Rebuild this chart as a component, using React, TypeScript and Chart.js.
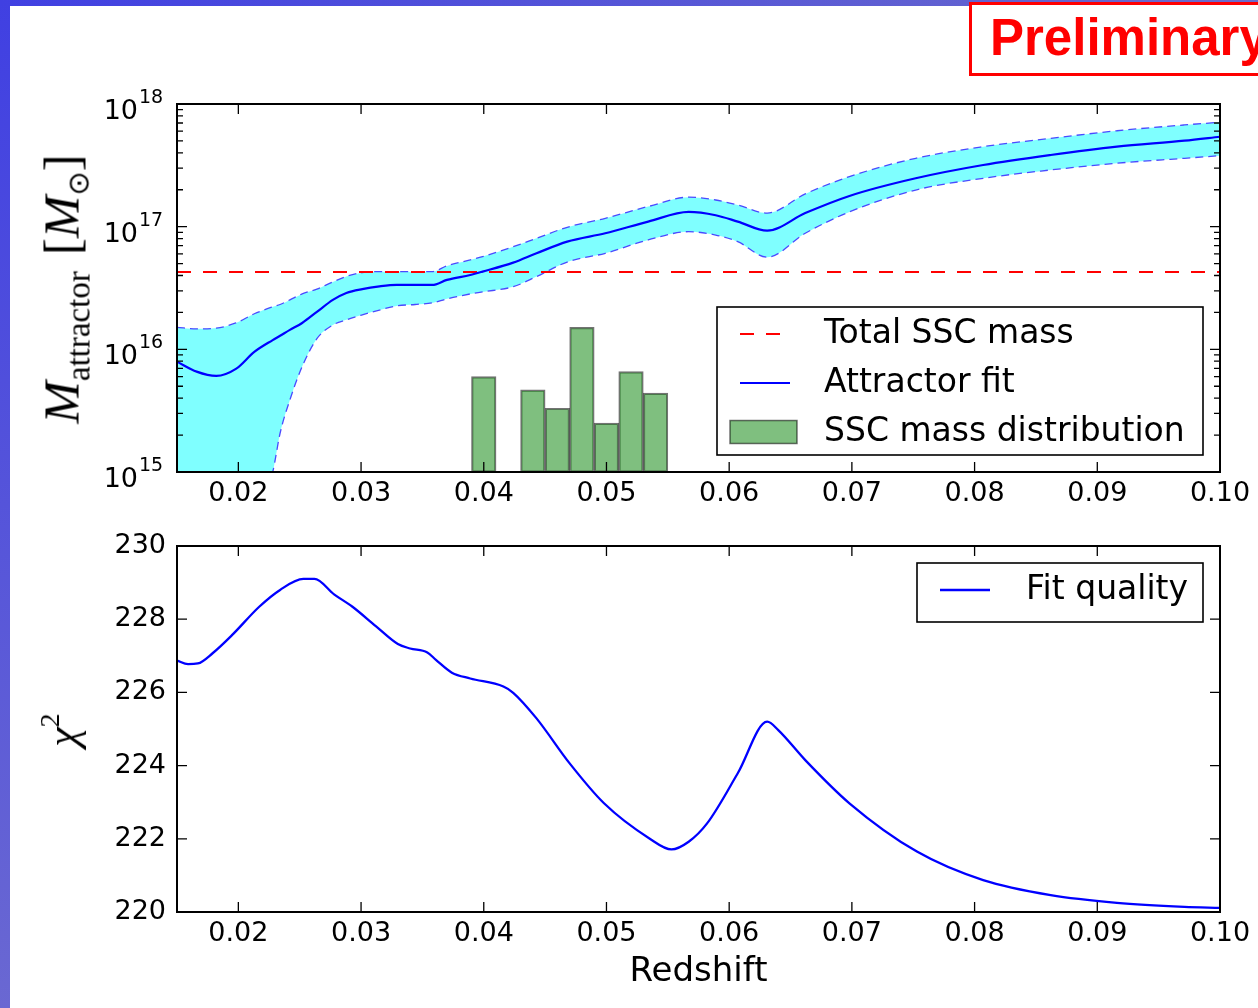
import React, { useEffect, useRef } from 'react';
import { Chart, registerables } from 'chart.js';

Chart.register(...registerables);
Chart.defaults.font.family = '"DejaVu Sans", sans-serif';
Chart.defaults.color = '#000';

// ---------- Data ----------
const redshiftGrid = [
  0.015, 0.0166, 0.0182, 0.0198, 0.0213, 0.0228, 0.0234, 0.0242, 0.0252, 0.0264,
  0.0277, 0.0288, 0.0301, 0.0315, 0.0329, 0.0344, 0.0358, 0.037, 0.0389, 0.0399,
  0.0424, 0.0443, 0.0468, 0.0499, 0.0534, 0.0567, 0.0589, 0.0607, 0.0631, 0.0662,
  0.0698, 0.0752, 0.0807, 0.0862, 0.0916, 0.0971, 0.1,
];
const massFit = [
  7.94e15, 6.58e15, 6.07e15, 6.92e15, 9.53e15, 1.19e16, 1.29e16, 1.44e16, 1.64e16, 2.02e16,
  2.53e16, 2.88e16, 3.10e16, 3.26e16, 3.35e16, 3.35e16, 3.35e16, 3.68e16, 4.04e16, 4.30e16,
  5.09e16, 6.07e16, 7.55e16, 8.83e16, 1.10e17, 1.32e17, 1.24e17, 1.10e17, 9.27e16, 1.29e17,
  1.78e17, 2.48e17, 3.18e17, 3.84e17, 4.49e17, 5.02e17, 5.41e17,
];
const massUpper = [
  1.51e16, 1.47e16, 1.49e16, 1.64e16, 1.95e16, 2.22e16, 2.32e16, 2.53e16, 2.83e16, 3.10e16,
  3.54e16, 3.93e16, 4.22e16, 4.30e16, 4.30e16, 4.30e16, 4.30e16, 4.79e16, 5.36e16, 5.70e16,
  6.87e16, 8.04e16, 9.89e16, 1.17e17, 1.46e17, 1.74e17, 1.65e17, 1.50e17, 1.29e17, 1.85e17,
  2.56e17, 3.61e17, 4.49e17, 5.25e17, 6.05e17, 6.75e17, 7.10e17,
];
const massLower = [
  1.0e13, 2.5e13, 6.3e13, 1.6e14, 4.0e14, 1.0e15, 2.07e15, 3.87e15, 7.23e15, 1.22e16,
  1.58e16, 1.74e16, 1.91e16, 2.09e16, 2.26e16, 2.32e16, 2.39e16, 2.58e16, 2.83e16, 2.94e16,
  3.24e16, 3.92e16, 5.15e16, 6.07e16, 7.80e16, 9.10e16, 8.55e16, 7.55e16, 5.64e16, 8.83e16,
  1.32e17, 1.99e17, 2.48e17, 2.90e17, 3.29e17, 3.61e17, 3.79e17,
];
const totalSscMass = 4.27e16;
const histBinCenters = [0.040, 0.044, 0.046, 0.048, 0.050, 0.052, 0.054];
const histMass = [6.0e15, 4.67e15, 3.31e15, 1.51e16, 2.5e15, 6.58e15, 4.39e15];

const chiRedshift = [
  0.015, 0.0159, 0.0167, 0.0179, 0.0195, 0.0217, 0.0234, 0.0253, 0.0262, 0.0278,
  0.0293, 0.0312, 0.033, 0.034, 0.0354, 0.0361, 0.0374, 0.0389, 0.0416, 0.0424,
  0.0443, 0.047, 0.0498, 0.0535, 0.0553, 0.0567, 0.0582, 0.0607, 0.0631, 0.064,
  0.0662, 0.0698, 0.0753, 0.0807, 0.0862, 0.0916, 0.0971, 0.1,
];
const chiValues = [
  226.87, 226.77, 226.79, 227.07, 227.57, 228.34, 228.8, 229.1, 229.1, 228.68,
  228.34, 227.81, 227.32, 227.2, 227.09, 226.89, 226.54, 226.38, 226.16, 225.99,
  225.29, 224.06, 222.97, 222.01, 221.71, 221.92, 222.42, 223.79, 225.2, 224.97,
  224.15, 222.97, 221.65, 220.87, 220.46, 220.25, 220.14, 220.11,
];

const xTickValues = [0.02, 0.03, 0.04, 0.05, 0.06, 0.07, 0.08, 0.09, 0.10];
const massTickValues = [1e15, 1e16, 1e17, 1e18];
const chiTickValues = [220, 222, 224, 226, 228, 230];

const labelFit = 'Attractor fit';
const labelTotal = 'Total SSC mass';
const labelHist = 'SSC mass distribution';
const labelChi = 'Fit quality';

// ---------- Plugins ----------
const framePlugin = {
  id: 'frameTicks',
  afterDatasetsDraw(chart: any, _a: any, opts: any) {
    const { ctx, chartArea } = chart;
    const { left, right, top, bottom } = chartArea;
    const xs = chart.scales.x;
    const ys = chart.scales.y;
    ctx.save();
    ctx.strokeStyle = '#000';
    ctx.lineWidth = 1.3;
    ctx.beginPath();
    xs.ticks.forEach((t: any) => {
      const p = xs.getPixelForValue(t.value);
      ctx.moveTo(p, bottom); ctx.lineTo(p, bottom - 10);
      ctx.moveTo(p, top); ctx.lineTo(p, top + 10);
    });
    ys.ticks.forEach((t: any) => {
      const p = ys.getPixelForValue(t.value);
      ctx.moveTo(left, p); ctx.lineTo(left + 10, p);
      ctx.moveTo(right, p); ctx.lineTo(right - 10, p);
    });
    if (opts && opts.logMinor) {
      for (let e = 15; e < 18; e++) {
        for (let k = 2; k <= 9; k++) {
          const p = ys.getPixelForValue(k * Math.pow(10, e));
          ctx.moveTo(left, p); ctx.lineTo(left + 6, p);
          ctx.moveTo(right, p); ctx.lineTo(right - 6, p);
        }
      }
    }
    ctx.stroke();
    ctx.lineWidth = 2;
    ctx.strokeRect(left, top, right - left, bottom - top);
    ctx.restore();
  },
};

const logLabelPlugin = {
  id: 'logLabels',
  afterDraw(chart: any, _a: any, opts: any) {
    if (!opts || !opts.enabled) return;
    const { ctx } = chart;
    const ys = chart.scales.y;
    ctx.save();
    ctx.fillStyle = '#000';
    ys.ticks.forEach((t: any) => {
      const p = ys.getPixelForValue(t.value);
      const exp = String(Math.round(Math.log10(t.value)));
      ctx.font = '27px "DejaVu Sans"';
      ctx.textAlign = 'right';
      ctx.textBaseline = 'alphabetic';
      ctx.fillText('10', 138, p + 15);
      ctx.font = '19px "DejaVu Sans"';
      ctx.textAlign = 'left';
      ctx.fillText(exp, 139, p - 1);
    });
    ctx.restore();
  },
};

const legendPlugin = {
  id: 'boxLegend',
  afterDraw(chart: any, _a: any, opts: any) {
    if (!opts || !opts.items) return;
    const { ctx } = chart;
    const [bx, by, bw, bh] = opts.box;
    ctx.save();
    ctx.fillStyle = '#fff';
    ctx.fillRect(bx, by, bw, bh);
    ctx.strokeStyle = '#000';
    ctx.lineWidth = 1.6;
    ctx.strokeRect(bx, by, bw, bh);
    opts.items.forEach((it: any) => {
      const ds = chart.data.datasets[it.ds];
      if (ds.type === 'bar') {
        ctx.fillStyle = ds.backgroundColor;
        ctx.fillRect(opts.patchX, it.y - 11.5, opts.patchW, 23);
        ctx.strokeStyle = ds.borderColor;
        ctx.lineWidth = ds.borderWidth;
        ctx.strokeRect(opts.patchX, it.y - 11.5, opts.patchW, 23);
      } else {
        ctx.strokeStyle = ds.borderColor;
        ctx.lineWidth = ds.borderWidth;
        ctx.setLineDash(ds.borderDash || []);
        ctx.beginPath();
        ctx.moveTo(opts.lineX0, it.y);
        ctx.lineTo(opts.lineX1, it.y);
        ctx.stroke();
        ctx.setLineDash([]);
      }
      ctx.fillStyle = '#000';
      ctx.font = '33px "DejaVu Sans"';
      ctx.textAlign = 'left';
      ctx.textBaseline = 'middle';
      ctx.fillText(ds.label, opts.textX, it.y);
    });
    ctx.restore();
  },
};

const xAxis = (height: number, withTitle: boolean) => ({
  type: 'linear',
  min: 0.015,
  max: 0.1,
  offset: false,
  grid: { display: false, drawTicks: false },
  border: { display: false },
  afterBuildTicks: (s: any) => { s.ticks = xTickValues.map((v) => ({ value: v })); },
  afterFit: (s: any) => { s.height = height; },
  ticks: {
    autoSkip: false,
    maxRotation: 0,
    minRotation: 0,
    padding: 6,
    font: { size: 27, family: '"DejaVu Sans"' },
    color: '#000',
    callback: (v: any) => Number(v).toFixed(2),
  },
  title: withTitle
    ? { display: true, text: 'Redshift', font: { size: 34, family: '"DejaVu Sans"' }, color: '#000', padding: { top: 0, bottom: 15 } }
    : { display: false },
});

export default function App() {
  const topRef = useRef<HTMLCanvasElement>(null);
  const botRef = useRef<HTMLCanvasElement>(null);

  useEffect(() => {
    const pts = (xs: number[], ys: number[]) => xs.map((x, i) => ({ x, y: ys[i] }));
    const smooth = { cubicInterpolationMode: 'monotone' as const };

    const top = new Chart(topRef.current as HTMLCanvasElement, {
      type: 'line',
      data: {
        datasets: [
          {
            label: labelFit,
            data: pts(redshiftGrid, massFit),
            borderColor: '#0000ff',
            borderWidth: 2.2,
            pointRadius: 0,
            ...smooth,
            fill: false,
            order: 0,
          },
          {
            label: labelTotal,
            data: [{ x: 0.015, y: totalSscMass }, { x: 0.1, y: totalSscMass }],
            borderColor: '#ff0000',
            borderWidth: 2.2,
            borderDash: [14, 12],
            pointRadius: 0,
            fill: false,
            order: 1,
          },
          {
            label: 'lower',
            data: pts(redshiftGrid, massLower),
            borderColor: '#4a4aff',
            borderWidth: 1.3,
            borderDash: [8, 5],
            pointRadius: 0,
            ...smooth,
            fill: false,
            order: 3,
          },
          {
            label: 'upper',
            data: pts(redshiftGrid, massUpper),
            borderColor: '#4a4aff',
            borderWidth: 1.3,
            borderDash: [8, 5],
            pointRadius: 0,
            ...smooth,
            fill: { target: 2 },
            backgroundColor: 'rgba(0,255,255,0.5)',
            order: 2,
          },
          {
            type: 'bar',
            label: labelHist,
            data: pts(histBinCenters, histMass),
            backgroundColor: 'rgba(0,128,0,0.5)',
            borderColor: 'rgba(0,0,0,0.55)',
            borderWidth: 1.5,
            borderSkipped: false,
            barPercentage: 1,
            categoryPercentage: 1,
            order: 5,
          } as any,
        ],
      },
      options: {
        responsive: false,
        animation: false,
        events: [],
        layout: { padding: { left: 0, top: 104, right: 38, bottom: 8 } },
        scales: {
          x: xAxis(45, false) as any,
          y: {
            type: 'logarithmic',
            min: 1e15,
            max: 1e18,
            grid: { display: false, drawTicks: false },
            border: { display: false },
            afterBuildTicks: (s: any) => { s.ticks = massTickValues.map((v) => ({ value: v })); },
            afterFit: (s: any) => { s.width = 177; s.paddingTop = 0; s.paddingBottom = 0; },
            ticks: { display: false },
          },
        },
        plugins: {
          legend: { display: false },
          tooltip: { enabled: false },
          filler: { drawTime: 'beforeDatasetsDraw' },
          frameTicks: { logMinor: true },
          logLabels: { enabled: true },
          boxLegend: {
            box: [717, 307, 486, 148],
            lineX0: 740, lineX1: 790, patchX: 730, patchW: 67, textX: 824,
            items: [{ ds: 1, y: 334 }, { ds: 0, y: 383 }, { ds: 4, y: 432 }],
          },
        } as any,
      },
      plugins: [framePlugin, logLabelPlugin, legendPlugin],
    } as any);

    const bot = new Chart(botRef.current as HTMLCanvasElement, {
      type: 'line',
      data: {
        datasets: [
          {
            label: labelChi,
            data: pts(chiRedshift, chiValues),
            borderColor: '#0000ff',
            borderWidth: 2.3,
            pointRadius: 0,
            ...smooth,
            fill: false,
          },
        ],
      },
      options: {
        responsive: false,
        animation: false,
        events: [],
        layout: { padding: { left: 0, top: 21, right: 38, bottom: 0 } },
        scales: {
          x: xAxis(96, true) as any,
          y: {
            type: 'linear',
            min: 220,
            max: 230,
            grid: { display: false, drawTicks: false },
            border: { display: false },
            afterBuildTicks: (s: any) => { s.ticks = chiTickValues.map((v) => ({ value: v })); },
            afterFit: (s: any) => { s.width = 177; s.paddingTop = 0; s.paddingBottom = 0; },
            ticks: { padding: 11, font: { size: 27, family: '"DejaVu Sans"' }, color: '#000' },
          },
        },
        plugins: {
          legend: { display: false },
          tooltip: { enabled: false },
          frameTicks: { logMinor: false },
          logLabels: { enabled: false },
          boxLegend: {
            box: [917, 38, 286, 59],
            lineX0: 940, lineX1: 990, patchX: 930, patchW: 67, textX: 1026,
            items: [{ ds: 0, y: 65 }],
          },
        } as any,
      },
      plugins: [framePlugin, logLabelPlugin, legendPlugin],
    } as any);

    return () => {
      top.destroy();
      bot.destroy();
    };
  }, []);

  const serif = '"Liberation Serif", "DejaVu Serif", serif';

  return (
    <div style={{ position: 'fixed', left: 0, top: 0, width: 1258, height: 1008, overflow: 'hidden', background: '#fff' }}>
      <div style={{ position: 'absolute', left: 0, top: 0, width: 10, height: 1008, background: 'linear-gradient(to bottom, #4040e2, #6a68d2)' }} />
      <div style={{ position: 'absolute', left: 0, top: 0, width: 1258, height: 6, background: 'linear-gradient(to right, #4040e2, #6b6bcc)' }} />
      <canvas ref={topRef} width={1258} height={525} style={{ position: 'absolute', left: 0, top: 0, display: 'block' }} />
      <canvas ref={botRef} width={1258} height={483} style={{ position: 'absolute', left: 0, top: 525, display: 'block' }} />
      <div
        style={{
          position: 'absolute', left: 62, top: 289, transform: 'translate(-50%, -50%) rotate(-90deg)',
          whiteSpace: 'nowrap', fontFamily: serif, fontSize: 51, lineHeight: 1, color: '#000',
        }}
      >
        <i>M</i>
        <span style={{ fontSize: 33, position: 'relative', top: 11 }}>attractor</span>
        <span style={{ marginLeft: 16 }}>[</span>
        <i>M</i>
        <span style={{ fontSize: 29, position: 'relative', top: 10, fontFamily: '"DejaVu Sans"' }}>⊙</span>
        <span>]</span>
      </div>
      <div
        style={{
          position: 'absolute', left: 63, top: 730, transform: 'translate(-50%, -50%) rotate(-90deg)',
          whiteSpace: 'nowrap', fontFamily: serif, fontSize: 44, lineHeight: 1, color: '#000',
        }}
      >
        <i>χ</i>
        <span style={{ fontSize: 28, position: 'relative', top: -18 }}>2</span>
      </div>
      <div
        style={{
          position: 'absolute', left: 969, top: 2, width: 400, height: 68, border: '3px solid #ff0000',
          background: '#fff', boxSizing: 'content-box',
        }}
      >
        <div
          style={{
            position: 'absolute', left: 18, top: 3, fontFamily: '"Liberation Sans", Arial, sans-serif',
            fontWeight: 'bold', fontSize: 51, lineHeight: '60px', color: '#ff0000', whiteSpace: 'nowrap',
          }}
        >
          Preliminary
        </div>
      </div>
    </div>
  );
}
